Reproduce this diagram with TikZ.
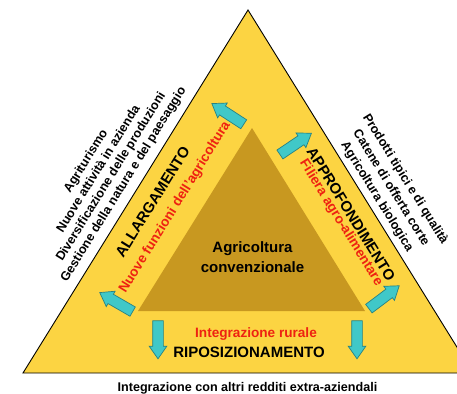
\documentclass[tikz,border=0pt]{standalone}
\usepackage{fontspec}
\setmainfont{Liberation Sans}
\usetikzlibrary{shapes.arrows}

\definecolor{outeryellow}{RGB}{252,212,66}
\definecolor{innergold}{RGB}{200,152,32}
\definecolor{arrowfill}{RGB}{64,200,200}
\definecolor{arrowedge}{RGB}{40,130,130}
\definecolor{textred}{RGB}{238,34,17}

\begin{document}
\begin{tikzpicture}[x=1pt,y=-1pt,
    bluearrow/.style={single arrow, draw=arrowedge, fill=arrowfill, line width=0.7pt,
        minimum height=38pt, inner sep=5pt, single arrow head extend=3.5pt,
        single arrow tip angle=70},
    sidetitle/.style={font=\bfseries\fontsize{15}{18}\selectfont},
    redlabel/.style={text=textred, font=\bfseries\fontsize{13.6}{16}\selectfont},
    listtext/.style={align=center, font=\bfseries\fontsize{12.6}{14.7}\selectfont}]
    % Frame of the picture
    \useasboundingbox (0,0) rectangle (457,393);
    \clip (0,0) rectangle (457,393);

    % Corners of the outer and the inner triangle
    \coordinate (T) at (248,10);
    \coordinate (L) at (23,373);
    \coordinate (R) at (473,373);
    \coordinate (t) at (252,128);
    \coordinate (l) at (138,311);
    \coordinate (r) at (365,311);

    % Draw the two triangles
    \draw[fill=outeryellow, line width=0.9pt] (T) -- (R) -- (L) -- cycle;
    \fill[innergold] (t) -- (r) -- (l) -- cycle;

    % Block arrows pointing out of the inner triangle
    \node[bluearrow, rotate=147] (arrA) at (231,116) {};
    \node[bluearrow, rotate=34] (arrB) at (292.5,146) {};
    \node[bluearrow, rotate=150] (arrC) at (119.5,304) {};
    \node[bluearrow, rotate=37] (arrD) at (381,299.5) {};
    \node[bluearrow, rotate=-90] (arrE) at (158,336) {};
    \node[bluearrow, rotate=-90] (arrF) at (357,336) {};

    % Centre label
    \node[align=center, font=\bfseries\fontsize{15}{20}\selectfont] (conv) at (252.5,257)
        {Agricoltura\\convenzionale};

    % Left side: labels along the edge
    \node[sidetitle, rotate=58.2] (allarg) at (152.5,202) {ALLARGAMENTO};
    \node[redlabel, rotate=58.2] (nuove) at (175,207.5) {Nuove funzioni dell'agricoltura};
    \node[listtext, rotate=58.2] (leftlist) at (105,173)
        {Agriturismo\\Nuove attività in azienda\\Diversificazione delle produzioni\\Gestione della natura e del paesaggio};

    % Right side: labels along the edge
    \node[sidetitle, rotate=-58.2] (approf) at (351,214) {APPROFONDIMENTO};
    \node[redlabel, rotate=-58.2] (filiera) at (341,223) {Filiera agro-alimentare};
    \node[listtext, rotate=-58.2, font=\bfseries\fontsize{12.6}{16.6}\selectfont] (rightlist) at (391,188)
        {Prodotti tipici e di qualità\\Catene di offerta corte\\Agricoltura biologica};

    % Bottom side
    \node[redlabel] (rurale) at (256,334) {Integrazione rurale};
    \node[sidetitle] (ripos) at (249,352) {RIPOSIZIONAMENTO};
    \node[font=\bfseries\fontsize{12.6}{15}\selectfont, anchor=base] (extra) at (247.5,391)
        {Integrazione con altri redditi extra-aziendali};
\end{tikzpicture}
\end{document}
